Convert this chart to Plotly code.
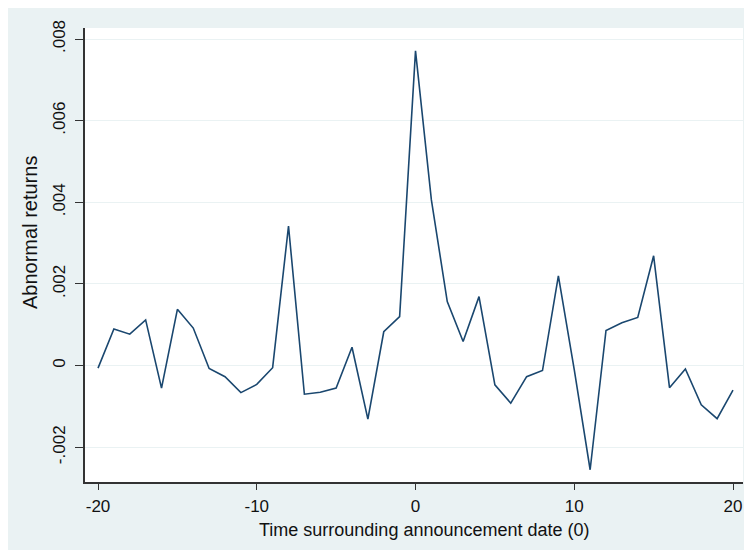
import plotly.graph_objects as go

days = list(range(-20, 21))
abnormal_returns = [
    -0.00006, 0.00090, 0.00077, 0.00112, -0.00055, 0.00138, 0.00092, -0.00007,
    -0.00027, -0.00066, -0.00046, -0.00005, 0.00342, -0.00070, -0.00065,
    -0.00055, 0.00045, -0.00131, 0.00083, 0.00120, 0.00771, 0.00406, 0.00157,
    0.00059, 0.00169, -0.00047, -0.00092, -0.00027, -0.00012, 0.00220,
    -0.00010, -0.00255, 0.00086, 0.00105, 0.00118, 0.00269, -0.00054,
    -0.00008, -0.00096, -0.00130, -0.00060,
]
y_tickvals = [-0.002, 0, 0.002, 0.004, 0.006, 0.008]
y_ticktext = ["-.002", "0", ".002", ".004", ".006", ".008"]
x_tickvals = [-20, -10, 0, 10, 20]
x_ticktext = ["-20", "-10", "0", "10", "20"]
x_title = "Time surrounding announcement date (0)"
y_title = "Abnormal returns"

BG = "#eaf2f3"
W, H = 744, 542
L, R, T, B = 77, 9, 20, 68
PW, PH = W - L - R, H - T - B

fig = go.Figure()
fig.add_trace(go.Scatter(x=days, y=abnormal_returns, mode="lines",
                         line=dict(color="#1a476f", width=1.6),
                         showlegend=False, hoverinfo="skip"))

FAM = "Liberation Sans"
TXT = "#111"
tickfont = dict(family=FAM, size=17, color=TXT)
fig.update_layout(
    width=W, height=H,
    margin=dict(l=L, r=R, t=T, b=B, autoexpand=False),
    paper_bgcolor=BG, plot_bgcolor="white",
    font=dict(family=FAM, size=16, color=TXT),
    xaxis=dict(range=[-20.82, 20.63], tickvals=x_tickvals, ticktext=x_ticktext,
               ticks="outside", ticklen=6, tickwidth=1.3, tickcolor="#333",
               ticklabelstandoff=2,
               showgrid=False, zeroline=False, automargin=False,
               showline=True, linecolor="#333", linewidth=1.5,
               tickfont=tickfont),
    yaxis=dict(range=[-0.00285, 0.00827], tickvals=y_tickvals, ticktext=y_ticktext,
               ticks="outside", ticklen=8, tickwidth=1.3, tickcolor="#333",
               ticklabelstandoff=3,
               tickangle=-90, automargin=False,
               showgrid=True, gridcolor=BG, gridwidth=1.2, zeroline=False,
               showline=True, linecolor="#333", linewidth=1.5,
               tickfont=tickfont),
    annotations=[
        dict(text=x_title, xref="paper", yref="paper",
             x=(416 - L) / PW, y=(T + PH - 522) / PH,
             xanchor="center", yanchor="middle", showarrow=False,
             font=dict(family=FAM, size=18, color=TXT)),
        dict(text=y_title, xref="paper", yref="paper",
             x=(22 - L) / PW, y=(T + PH - 225) / PH, textangle=-90,
             xanchor="center", yanchor="middle", showarrow=False,
             font=dict(family=FAM, size=20, color=TXT)),
    ],
)

fig.write_html("out.html")
